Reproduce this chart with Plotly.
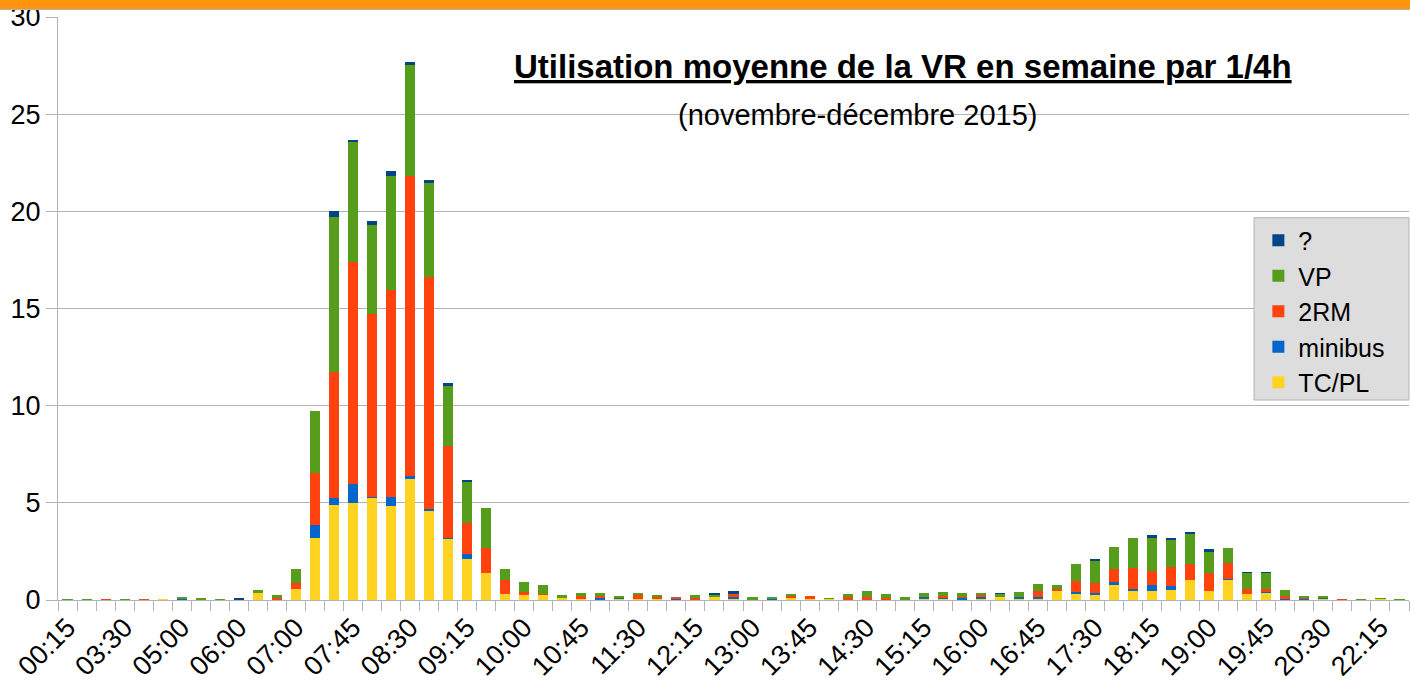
import plotly.graph_objects as go

times = ["00:15", "01:30", "02:45", "03:30", "04:00", "04:30", "05:00", "05:15", "05:45", "06:00",
         "06:30", "06:45", "07:00", "07:15", "07:30", "07:45", "08:00", "08:15", "08:30", "08:45",
         "09:00", "09:15", "09:30", "09:45", "10:00", "10:15", "10:30", "10:45", "11:00", "11:15",
         "11:30", "11:45", "12:00", "12:15", "12:30", "12:45", "13:00", "13:15", "13:30", "13:45",
         "14:00", "14:15", "14:30", "14:45", "15:00", "15:15", "15:30", "15:45", "16:00", "16:15",
         "16:30", "16:45", "17:00", "17:15", "17:30", "17:45", "18:00", "18:15", "18:30", "18:45",
         "19:00", "19:15", "19:30", "19:45", "20:00", "20:15", "20:30", "21:00", "21:45", "22:15",
         "23:00"]

tick_labels = ["00:15", "03:30", "05:00", "06:00", "07:00", "07:45", "08:30", "09:15", "10:00",
               "10:45", "11:30", "12:15", "13:00", "13:45", "14:30", "15:15", "16:00", "16:45",
               "17:30", "18:15", "19:00", "19:45", "20:30", "22:15"]

tc_pl = [0, 0, 0, 0, 0, 0.05, 0.05, 0, 0, 0,
         0.36, 0.05, 0.56, 3.2, 4.89, 5.0, 5.26, 4.84, 6.22, 4.58,
         3.14, 2.11, 1.39, 0.31, 0.26, 0.26, 0.1, 0.1, 0.05, 0.07,
         0.07, 0.07, 0.05, 0, 0.15, 0.1, 0, 0.05, 0.15, 0.05,
         0.07, 0, 0, 0, 0.05, 0.07, 0.07, 0.05, 0.05, 0.17,
         0.1, 0.07, 0.46, 0.31, 0.26, 0.77, 0.46, 0.46, 0.51, 1.03,
         0.46, 1.03, 0.31, 0.36, 0, 0.04, 0.07, 0, 0, 0.08,
         0]
minibus = [0, 0, 0, 0, 0, 0, 0.05, 0, 0, 0.04,
           0, 0, 0, 0.66, 0.37, 0.98, 0.06, 0.46, 0.16, 0.1,
           0.06, 0.27, 0, 0, 0, 0, 0, 0, 0.1, 0.05,
           0, 0, 0.05, 0.05, 0, 0.05, 0.05, 0.02, 0, 0,
           0, 0, 0, 0, 0, 0.08, 0.08, 0.07, 0.12, 0,
           0.05, 0.1, 0, 0.1, 0.1, 0.17, 0.11, 0.31, 0.21, 0,
           0, 0.05, 0, 0.05, 0.07, 0.03, 0.08, 0, 0, 0,
           0]
rm2 = [0, 0, 0.05, 0, 0.05, 0, 0, 0, 0, 0,
       0.05, 0.05, 0.31, 2.67, 6.48, 11.42, 9.41, 10.66, 15.45, 11.92,
       4.74, 1.58, 1.3, 0.74, 0.15, 0.07, 0, 0.1, 0.05, 0,
       0.19, 0.08, 0.05, 0.05, 0, 0.16, 0, 0, 0.05, 0.15,
       0, 0.15, 0.15, 0.12, 0, 0, 0.07, 0.03, 0.09, 0,
       0, 0.29, 0.11, 0.57, 0.51, 0.66, 1.09, 0.72, 0.98, 0.84,
       0.93, 0.82, 0.26, 0.16, 0.13, 0.06, 0, 0.05, 0, 0,
       0.03]
vp = [0.05, 0.05, 0, 0.05, 0, 0, 0.05, 0.1, 0.05, 0,
      0.1, 0.16, 0.73, 3.2, 7.96, 6.18, 4.56, 5.84, 5.69, 4.85,
      3.06, 2.16, 2.04, 0.55, 0.52, 0.44, 0.16, 0.16, 0.16, 0.08,
      0.1, 0.11, 0, 0.16, 0.11, 0, 0.1, 0.08, 0.11, 0,
      0.03, 0.16, 0.31, 0.19, 0.1, 0.21, 0.19, 0.21, 0.1, 0.14,
      0.26, 0.36, 0.2, 0.87, 1.14, 1.13, 1.53, 1.75, 1.39, 1.53,
      1.08, 0.78, 0.82, 0.82, 0.31, 0.03, 0.05, 0, 0.05, 0.02,
      0.02]
unknown = [0, 0, 0, 0, 0, 0, 0, 0, 0, 0.03,
           0, 0, 0, 0, 0.3, 0.08, 0.21, 0.27, 0.15, 0.15,
           0.16, 0.05, 0, 0, 0, 0, 0, 0, 0, 0,
           0, 0, 0, 0, 0.05, 0.15, 0, 0, 0, 0,
           0, 0, 0, 0, 0, 0, 0, 0, 0, 0.05,
           0, 0, 0, 0, 0.05, 0, 0, 0.1, 0.05, 0.05,
           0.15, 0, 0.05, 0.05, 0, 0, 0, 0, 0, 0,
           0]

series = [
    ("TC/PL", tc_pl, "#ffd320"),
    ("minibus", minibus, "#0066cc"),
    ("2RM", rm2, "#ff420e"),
    ("VP", vp, "#579d1c"),
    ("?", unknown, "#004586"),
]

FONT = "Liberation Sans, Arial, sans-serif"

fig = go.Figure()
for name, vals, col in series:
    fig.add_trace(go.Bar(x=times, y=vals, name=name, marker=dict(color=col, line=dict(width=0)),
                         legendgroup=name))

ticktext = [t if t in tick_labels else "" for t in times]

fig.update_layout(
    barmode="stack",
    bargap=0.47,
    width=1410, height=681,
    margin=dict(l=58, r=1, t=17, b=81, autoexpand=False),
    paper_bgcolor="white", plot_bgcolor="white",
    font=dict(family=FONT, color="black"),
    showlegend=True,
    legend=dict(x=0.8885, y=0.656, xanchor="left", yanchor="top",
                bgcolor="rgba(0,0,0,0)", borderwidth=0,
                font=dict(size=25, family=FONT), traceorder="reversed",
                tracegroupgap=3),
    xaxis=dict(type="category", tickvals=times, ticktext=ticktext, tickangle=-45,
               tickson="boundaries", ticks="outside", ticklen=10, tickcolor="#b3b3b3",
               showline=True, linecolor="#b3b3b3", showgrid=False, automargin=False,
               tickfont=dict(size=27, family=FONT), range=[-0.5, len(times) - 0.5]),
    yaxis=dict(range=[0, 30], dtick=5, showgrid=True, gridcolor="#b3b3b3",
               showline=True, linecolor="#b3b3b3", ticks="outside", ticklen=11,
               tickcolor="#b3b3b3", tickfont=dict(size=27, family=FONT), zeroline=False,
               automargin=False),
    annotations=[
        dict(text="<b><u>Utilisation moyenne de la VR en semaine par 1/4h</u></b>",
             xref="paper", yref="paper", x=0.6255, y=0.9155, xanchor="center", yanchor="middle",
             showarrow=False, font=dict(size=33, family=FONT, color="black")),
        dict(text="(novembre-décembre 2015)",
             xref="paper", yref="paper", x=0.592, y=0.8315, xanchor="center", yanchor="middle",
             showarrow=False, font=dict(size=29, family=FONT, color="black")),
    ],
    shapes=[
        dict(type="rect", xref="paper", yref="paper", x0=-0.05, x1=1.01,
             ysizemode="pixel", yanchor=1, y0=8, y1=17, fillcolor="#ff950e", line=dict(width=0),
             layer="above"),
        dict(type="line", xref="paper", yref="paper", x0=-0.05, x1=1.01,
             ysizemode="pixel", yanchor=1, y0=7.5, y1=7.5, line=dict(color="#b3b3b3", width=1),
             layer="above"),
        # legend box
        dict(type="rect", xref="paper", yref="paper", x0=0.8853, x1=1.0,
             y0=0.343, y1=0.6557, fillcolor="#dddddd", line=dict(color="#b3b3b3", width=1),
             layer="above"),
    ],
)

fig.write_html("out.html", config={"displayModeBar": False},
               post_script="document.body.style.margin='0';document.body.style.overflow='hidden';")
